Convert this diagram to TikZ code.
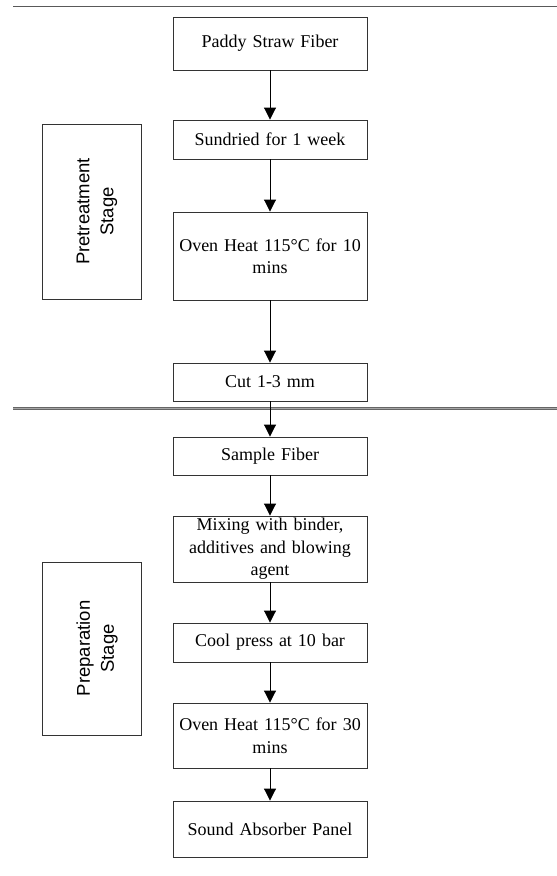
\documentclass[tikz,border=0pt]{standalone}
\usepackage{fontspec}
\setmainfont{Liberation Serif}
\newfontfamily\arialfont{Liberation Sans}
\usetikzlibrary{arrows.meta}
\begin{document}
\begin{tikzpicture}[x=1pt,y=-1pt,
  stepbox/.style={draw=black!80, line width=0.9pt, minimum width=194pt, text width=188pt, align=center, inner sep=0pt, font=\fontsize{18}{22.5}\selectfont},
  stagebox/.style={draw=black!80, line width=0.9pt, inner sep=0pt, minimum width=99pt},
  stagetext/.style={rotate=90, align=center, inner sep=0pt, font=\arialfont\fontsize{18.5}{24}\selectfont},
  flow/.style={-{Triangle[width=12pt,length=12pt]}, line width=0.9pt},
  rulea/.style={draw=black!65, line width=1.3pt},
  ruleb/.style={draw=black!60, line width=1pt, double=black!35, double distance=1pt}]
\useasboundingbox (0,0) rectangle (557,876);
% rules
\coordinate (t1) at (13,6.7);
\coordinate (t2) at (557,6.7);
\draw[rulea] (t1) -- (t2);
\coordinate (m1) at (13,408);
\coordinate (m2) at (557,408);
\draw[ruleb] (m1) -- (m2);
% stage boxes
\node[stagebox, minimum height=175pt] (pre) at (91.5,211.5) {};
\node[stagetext] (pretext) at (97,211.5) {Pretreatment\\Stage};
\node[stagebox, minimum height=173pt] (prep) at (91.5,648.5) {};
\node[stagetext] (preptext) at (97,648.5) {Preparation\\Stage};
% steps
\node[stepbox, minimum height=53pt] (s1) at (270,43.5) {Paddy Straw Fiber};
\node[stepbox, minimum height=39pt] (s2) at (270,139.5) {Sundried for 1 week};
\node[stepbox, minimum height=88pt] (s3) at (270,256) {Oven Heat 115°C for 10\\mins};
\node[stepbox, minimum height=38pt] (s4) at (270,382) {Cut 1-3 mm};
\node[stepbox, minimum height=38pt] (s5) at (270,456) {Sample Fiber};
\node[stepbox, minimum height=66pt] (s6) at (270,549) {Mixing with binder,\\additives and blowing\\agent};
\node[stepbox, minimum height=39pt] (s7) at (270,642.5) {Cool press at 10 bar};
\node[stepbox, minimum height=65pt] (s8) at (270,735.5) {Oven Heat 115°C for 30\\mins};
\node[stepbox, minimum height=56pt] (s9) at (270,829) {Sound Absorber Panel};
% connectors
\draw[flow] (s1) -- (s2);
\draw[flow] (s2) -- (s3);
\draw[flow] (s3) -- (s4);
\draw[flow] (s4) -- (s5);
\draw[flow] (s5) -- (s6);
\draw[flow] (s6) -- (s7);
\draw[flow] (s7) -- (s8);
\draw[flow] (s8) -- (s9);
\end{tikzpicture}
\end{document}
